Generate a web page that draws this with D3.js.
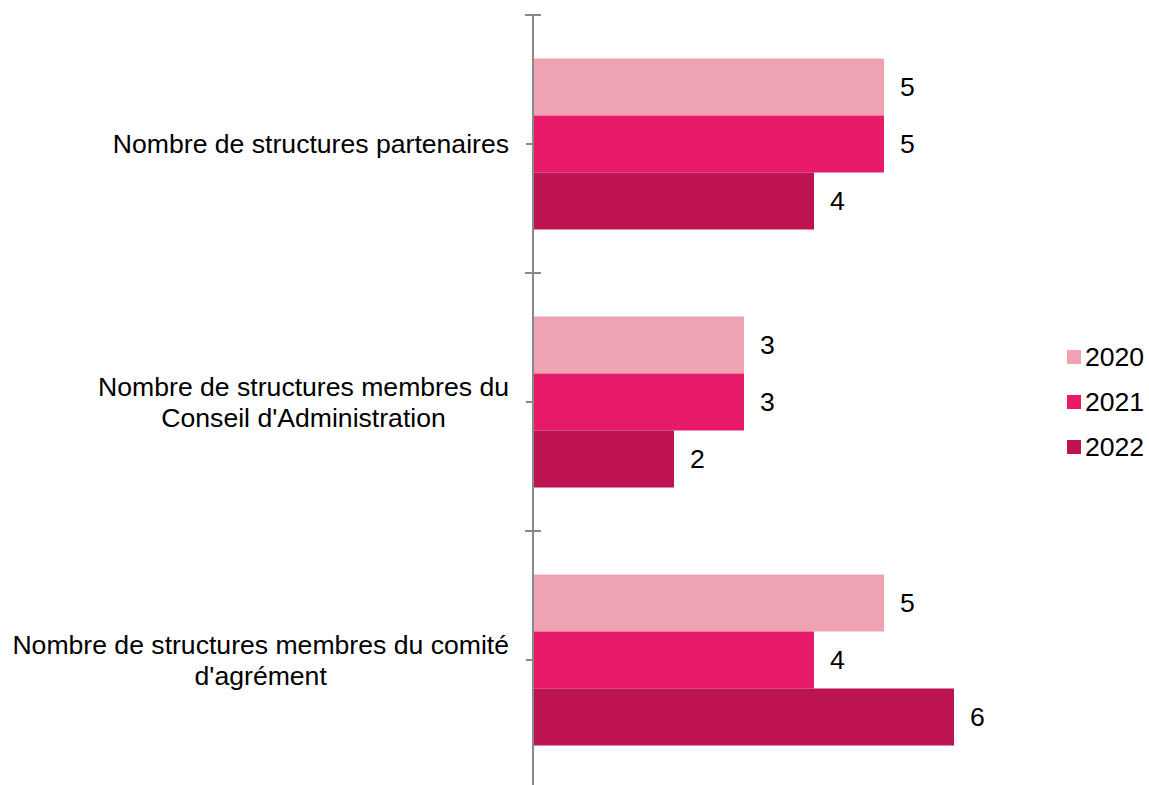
<!DOCTYPE html>
<html>
<head>
<meta charset="utf-8">
<script src="https://cdn.jsdelivr.net/npm/d3@7"></script>
<style>
  html, body { margin: 0; padding: 0; background: #fff; }
  svg { display: block; font-family: "Liberation Sans", Arial, sans-serif; }
</style>
</head>
<body>
<svg id="chart" width="1149" height="785"></svg>
<script>
const categories = [
  ["Nombre de structures partenaires"],
  ["Nombre de structures membres du", "Conseil d'Administration"],
  ["Nombre de structures membres du comité", "d'agrément"]
];
const series = ["2020", "2021", "2022"];
const values2020 = [5, 3, 5];
const values2021 = [5, 3, 4];
const values2022 = [4, 2, 6];
const colors = ["#EFA2B2", "#E71A69", "#BD1353"];

const seriesValues = [values2020, values2021, values2022];
const catIdx = categories.map((c, i) => i);

const svg = d3.select("#chart");
const axisX = 533;
const fontSize = 26.6;

const y0 = d3.scaleBand().domain(catIdx).range([15, 789]).paddingInner(0).paddingOuter(0);
const y1 = d3.scaleBand().domain(series).range([43.5, 214.5]).padding(0);
const x = d3.scaleLinear().domain([0, 6]).range([534, 954]);

// bars
const groups = svg.selectAll("g.cat").data(catIdx).join("g")
  .attr("class", "cat")
  .attr("transform", d => `translate(0,${y0(d)})`);

groups.each(function(ci) {
  const g = d3.select(this);
  series.forEach((s, si) => {
    const v = seriesValues[si][ci];
    g.append("rect")
      .attr("x", x(0))
      .attr("y", y1(s))
      .attr("width", x(v) - x(0))
      .attr("height", y1.bandwidth())
      .attr("fill", colors[si]);
    g.append("text")
      .attr("x", x(v) + 16)
      .attr("y", y1(s) + y1.bandwidth() / 2)
      .attr("dy", "0.35em")
      .attr("font-size", fontSize)
      .attr("fill", "#000")
      .text(v);
  });
});

// axis line
svg.append("line")
  .attr("x1", axisX).attr("x2", axisX)
  .attr("y1", 15).attr("y2", 789)
  .attr("stroke", "#888").attr("stroke-width", 2);

// boundary ticks
const boundaries = catIdx.map(i => y0(i)).concat([y0(catIdx[catIdx.length - 1]) + y0.bandwidth()]);
svg.selectAll("line.btick").data(boundaries).join("line")
  .attr("class", "btick")
  .attr("x1", axisX - 8).attr("x2", axisX + 8)
  .attr("y1", d => d).attr("y2", d => d)
  .attr("stroke", "#888").attr("stroke-width", 2);

// center ticks
svg.selectAll("line.ctick").data(catIdx).join("line")
  .attr("class", "ctick")
  .attr("x1", axisX - 7).attr("x2", axisX)
  .attr("y1", d => y0(d) + y0.bandwidth() / 2).attr("y2", d => y0(d) + y0.bandwidth() / 2)
  .attr("stroke", "#888").attr("stroke-width", 2);

// category labels (centered block, right-aligned to axis)
const labelRight = 509;
const lineH = 31;
catIdx.forEach(ci => {
  const lines = categories[ci];
  const cy = y0(ci) + y0.bandwidth() / 2;
  const t = svg.append("text")
    .attr("font-size", fontSize)
    .attr("fill", "#000")
    .attr("text-anchor", "middle");
  lines.forEach((ln, li) => {
    t.append("tspan")
      .attr("y", cy + (li - (lines.length - 1) / 2) * lineH)
      .attr("dy", "0.35em")
      .text(ln);
  });
  const tspans = t.selectAll("tspan").nodes();
  const maxW = d3.max(tspans, n => n.getComputedTextLength());
  const center = labelRight - maxW / 2;
  t.selectAll("tspan").attr("x", center);
});

// legend
const legend = svg.append("g");
series.forEach((s, i) => {
  const cy = 357 + i * 45;
  legend.append("rect")
    .attr("x", 1067).attr("y", cy - 7)
    .attr("width", 14).attr("height", 14)
    .attr("fill", colors[i]);
  legend.append("text")
    .attr("x", 1085).attr("y", cy)
    .attr("dy", "0.35em")
    .attr("font-size", fontSize)
    .attr("fill", "#000")
    .text(s);
});
</script>
</body>
</html>
